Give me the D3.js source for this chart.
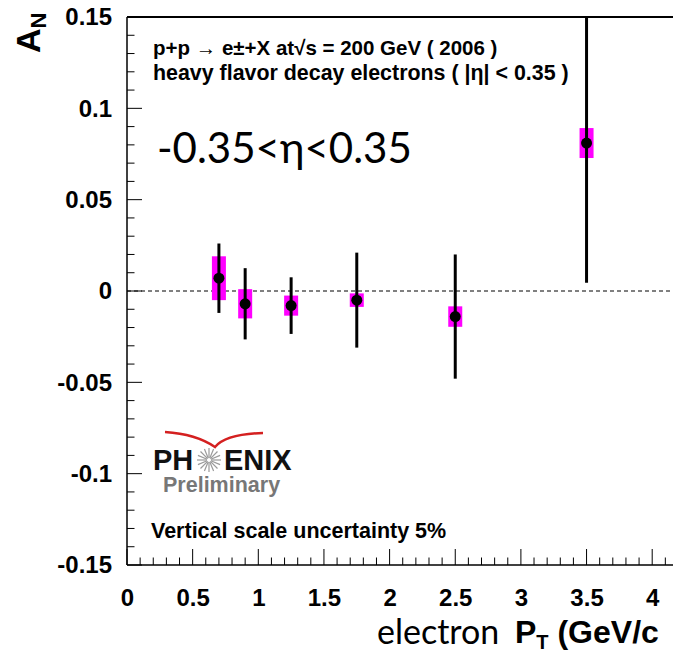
<!DOCTYPE html>
<html>
<head>
<meta charset="utf-8">
<script src="https://cdn.jsdelivr.net/npm/d3@7"></script>
<style>
  html, body { margin: 0; padding: 0; background: #fff; }
  svg { display: block; }
  .root { font-family: "Liberation Sans", Arial, Helvetica, sans-serif; font-weight: bold; }
</style>
</head>
<body>
<svg id="chart" width="673" height="655"></svg>
<script>
// Transverse single-spin asymmetry of heavy-flavour decay electrons
const pT       = [0.7, 0.9, 1.25, 1.75, 2.5, 3.5];
const asym     = [0.007, -0.007, -0.008, -0.005, -0.014, 0.081];
const statErr  = [0.019, 0.0195, 0.0155, 0.026, 0.034, 0.0765];
const sysErr   = [0.012, 0.008, 0.0055, 0.0037, 0.0056, 0.0082];

const xTicks = [0, 0.5, 1, 1.5, 2, 2.5, 3, 3.5, 4];
const yTicks = [-0.15, -0.1, -0.05, 0, 0.05, 0.1, 0.15];
const yTickLabels = ["-0.15", "-0.1", "-0.05", "0", "0.05", "0.1", "0.15"];

const svg = d3.select("#chart");
const W = 673, H = 655;
const plotLeft = 127, plotTop = 17, plotBottom = 565;

const x = d3.scaleLinear().domain([0, 4.3]).range([plotLeft, plotLeft + 4.3 * 131.3]);
const y = d3.scaleLinear().domain([-0.15, 0.15]).range([plotBottom, plotTop]);

const g = svg.append("g").attr("class", "root");

// clip region for the plot frame
svg.append("defs").append("clipPath").attr("id", "plotClip")
  .append("rect").attr("x", plotLeft).attr("y", plotTop)
  .attr("width", W - plotLeft).attr("height", plotBottom - plotTop);

// zero reference line
g.append("line")
  .attr("x1", x(0)).attr("x2", W).attr("y1", y(0)).attr("y2", y(0))
  .attr("stroke", "#000").attr("stroke-width", 1).attr("stroke-dasharray", "4,3");

// y axis: major ticks every 0.05, minor every 0.01 (drawn inward)
const yMinor = d3.range(-15, 16).map(d => d / 100);
g.append("g").selectAll("line").data(yMinor).join("line")
  .attr("x1", plotLeft).attr("y1", d => y(d)).attr("y2", d => y(d))
  .attr("x2", d => plotLeft + (Math.abs(Math.round(d * 100)) % 5 === 0 ? 15 : 7.5))
  .attr("stroke", "#000").attr("stroke-width", 1);

const yAxis = d3.axisLeft(y).tickValues(yTicks)
  .tickFormat((d, i) => yTickLabels[i]).tickSize(0).tickPadding(15);
const ya = g.append("g").attr("transform", `translate(${plotLeft},0)`).call(yAxis);
ya.select(".domain").remove();
ya.selectAll("text")
  .attr("font-family", "Liberation Sans, Arial, sans-serif")
  .attr("font-weight", "bold").attr("font-size", 24).attr("fill", "#000");

// x axis: major every 0.5, minor every 0.1 (drawn inward)
const xMinor = d3.range(0, 43).map(d => d / 10);
g.append("g").selectAll("line").data(xMinor).join("line")
  .attr("x1", d => x(d)).attr("x2", d => x(d)).attr("y1", plotBottom)
  .attr("y2", d => plotBottom - (Math.round(d * 10) % 5 === 0 ? 16 : 7.5))
  .attr("stroke", "#000").attr("stroke-width", 1);

const xAxis = d3.axisBottom(x).tickValues(xTicks)
  .tickFormat(d3.format("")).tickSize(0).tickPadding(24);
const xa = g.append("g").attr("transform", `translate(0,${plotBottom})`).call(xAxis);
xa.select(".domain").remove();
xa.selectAll("text")
  .attr("font-family", "Liberation Sans, Arial, sans-serif")
  .attr("font-weight", "bold").attr("font-size", 24).attr("fill", "#000");

// frame
g.append("line").attr("x1", plotLeft).attr("x2", plotLeft).attr("y1", plotTop).attr("y2", plotBottom)
  .attr("stroke", "#000").attr("stroke-width", 1.5);
g.append("line").attr("x1", plotLeft).attr("x2", W).attr("y1", plotBottom).attr("y2", plotBottom)
  .attr("stroke", "#000").attr("stroke-width", 1.5);
g.append("line").attr("x1", plotLeft).attr("x2", W).attr("y1", plotTop).attr("y2", plotTop)
  .attr("stroke", "#000").attr("stroke-width", 2);

// data: systematic boxes, statistical bars, markers
const pts = pT.map((p, i) => ({ p, a: asym[i], s: statErr[i], sy: sysErr[i] }));
const plot = g.append("g").attr("clip-path", "url(#plotClip)");

plot.selectAll("rect.sys").data(pts).join("rect").attr("class", "sys")
  .attr("x", d => x(d.p) - 7).attr("width", 14)
  .attr("y", d => y(d.a + d.sy)).attr("height", d => y(d.a - d.sy) - y(d.a + d.sy))
  .attr("fill", "#ff00ff");

plot.selectAll("line.stat").data(pts).join("line").attr("class", "stat")
  .attr("x1", d => x(d.p)).attr("x2", d => x(d.p))
  .attr("y1", d => y(d.a + d.s)).attr("y2", d => y(d.a - d.s))
  .attr("stroke", "#000").attr("stroke-width", 3);

plot.selectAll("circle").data(pts).join("circle")
  .attr("cx", d => x(d.p)).attr("cy", d => y(d.a)).attr("r", 5.5)
  .attr("fill", "#000");

// y-axis title A_N
const yt = g.append("text")
  .attr("transform", "translate(40,53) rotate(-90)")
  .attr("font-size", 34).attr("fill", "#000");
yt.append("tspan").text("A");
yt.append("tspan").attr("font-size", 22).attr("dy", 6).text("N");

// header lines
g.append("text").attr("x", 153).attr("y", 55).attr("font-size", 20.5).attr("fill", "#000")
  .text("p+p \u2192 e\u00B1+X at\u221As = 200 GeV ( 2006 )");
g.append("text").attr("x", 153).attr("y", 80).attr("font-size", 21.4).attr("fill", "#000")
  .text("heavy flavor decay electrons ( |\u03B7| < 0.35 )");

// pseudorapidity range
g.append("text").attr("x", 157).attr("y", 163)
  .attr("font-family", "Lato, 'Open Sans', sans-serif").attr("font-weight", "normal")
  .attr("font-size", 42).attr("fill", "#000")
  .text("-0.35<\u03B7<0.35");

// PHENIX mark
const logo = g.append("g");
logo.append("path")
  .attr("d", "M165,432 Q196,434 215,447 Q226,434 263,433")
  .attr("fill", "none").attr("stroke", "#d42020").attr("stroke-width", 2.5);
logo.append("text").attr("x", 153).attr("y", 470).attr("font-size", 29).attr("fill", "#111").text("PH");
const sc = { cx: 209, cy: 460 };
const rays = d3.range(0, 16);
logo.append("g").selectAll("line").data(rays).join("line")
  .attr("x1", d => sc.cx + 2 * Math.cos(d * Math.PI / 8))
  .attr("y1", d => sc.cy + 2 * Math.sin(d * Math.PI / 8))
  .attr("x2", d => sc.cx + 12 * Math.cos(d * Math.PI / 8))
  .attr("y2", d => sc.cy + 12 * Math.sin(d * Math.PI / 8))
  .attr("stroke", "#9a9a9a").attr("stroke-width", 1.2);
logo.append("text").attr("x", 224).attr("y", 470).attr("font-size", 29).attr("fill", "#111").text("ENIX");
logo.append("text").attr("x", 163).attr("y", 492).attr("font-size", 21.5).attr("fill", "#777").text("Preliminary");

// scale uncertainty note
g.append("text").attr("x", 151).attr("y", 538).attr("font-size", 21.5).attr("fill", "#000")
  .text("Vertical scale uncertainty 5%");

// x-axis title
g.append("text").attr("x", 377).attr("y", 644)
  .attr("font-family", "Lato, 'Open Sans', sans-serif").attr("font-weight", "normal")
  .attr("font-size", 34).attr("fill", "#000").text("electron");
const xt = g.append("text").attr("x", 515).attr("y", 643).attr("font-size", 32).attr("fill", "#000");
xt.append("tspan").text("P");
xt.append("tspan").attr("font-size", 20).attr("dy", 6).text("T");
xt.append("tspan").attr("dy", -6).text(" (GeV/c");
</script>
</body>
</html>
